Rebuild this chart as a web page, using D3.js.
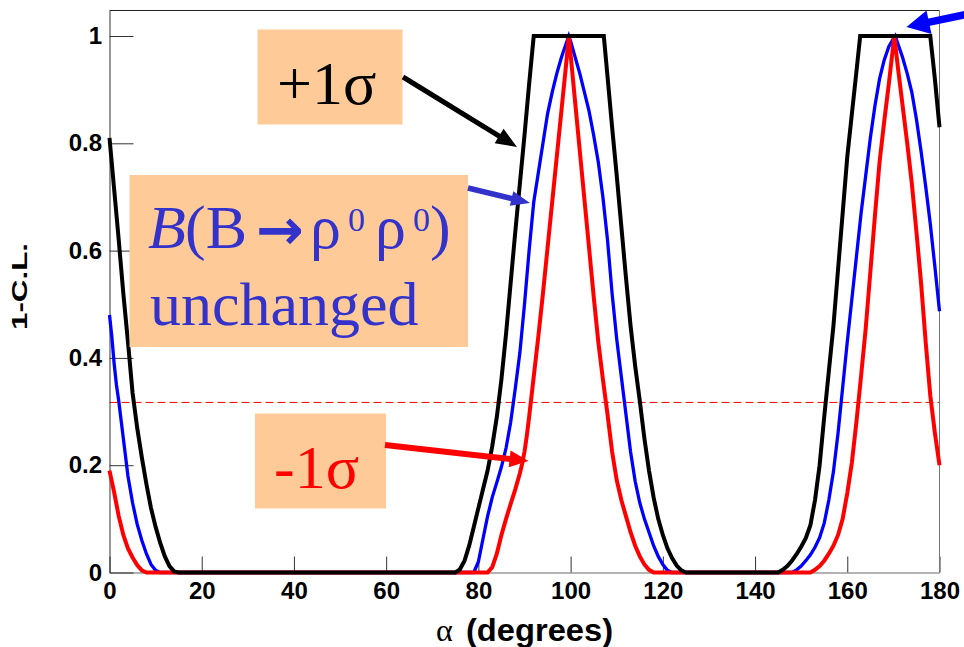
<!DOCTYPE html>
<html>
<head>
<meta charset="utf-8">
<script src="https://cdn.jsdelivr.net/npm/d3@7"></script>
<style>
  body { margin: 0; background: #fff; }
  svg { display: block; }
</style>
</head>
<body>
<svg id="chart" width="964" height="647"></svg>
<script>
// ---------------- DATA ----------------
const alphaTicks = [0, 20, 40, 60, 80, 100, 120, 140, 160, 180];
const clTicks = [0, 0.2, 0.4, 0.6, 0.8, 1];
const clThreshold = 0.317;

// +1 sigma (black) : [alpha (deg), 1-C.L.]
const plusOneSigma = [
  [0,0.81],[1,0.715],[2,0.62],[3,0.52],[4,0.43],[5,0.335],[6,0.27],[7,0.215],[8,0.165],[9,0.12],
  [10,0.085],[11,0.055],[12,0.03],[13,0.012],[14,0.002],[15,0],
  [75,0],[76,0.006],[77,0.022],[78,0.05],[79,0.085],[80,0.12],[81,0.155],[82,0.19],[83,0.235],
  [84,0.29],[85,0.36],[86,0.445],[87,0.54],[88,0.635],[89,0.725],[90,0.815],[91,0.91],[92,1],
  [107.2,1],[108,0.925],[109,0.83],[110,0.74],[111,0.645],[112,0.55],[113,0.46],[114,0.385],
  [115,0.32],[116,0.25],[117,0.19],[118,0.14],[119,0.1],[120,0.07],[121,0.045],[122,0.027],
  [123,0.013],[124,0.004],[125,0],
  [145,0],[146,0.005],[147,0.012],[148,0.022],[149,0.034],[150,0.048],[151,0.064],[152,0.088],
  [153,0.135],[154,0.2],[155,0.29],[156,0.375],[157,0.46],[158,0.565],[159,0.67],[160,0.775],
  [161,0.855],[162,0.935],[162.8,1],[178,1],[179,0.92],[180,0.83]
];

// B(B->rho0 rho0) unchanged (blue)
const unchanged = [
  [0,0.48],[0.5,0.44],[1,0.39],[1.5,0.35],[2,0.32],[3,0.25],[4,0.18],[5,0.13],[6,0.09],[7,0.06],
  [8,0.035],[9,0.015],[10,0.004],[11,0],
  [79,0],[80,0.02],[81,0.063],[82,0.105],[83,0.14],[84,0.168],[85,0.197],[86,0.232],[87,0.28],
  [88,0.343],[89,0.41],[90,0.5],[91,0.6],[92,0.69],[93,0.745],[94,0.8],[95,0.855],[96,0.895],
  [97,0.93],[98,0.96],[99,0.985],[99.6,1],
  [100,0.99],[101,0.96],[102,0.93],[103,0.895],[104,0.86],[105,0.815],[106,0.765],[107,0.7],
  [108,0.62],[109,0.52],[110,0.435],[111,0.365],[112,0.295],[113,0.225],[114,0.17],[115,0.13],
  [116,0.1],[117,0.075],[118,0.05],[119,0.03],[120,0.015],[121,0.004],[122,0],
  [148,0],[149,0.005],[150,0.012],[151,0.022],[152,0.033],[153,0.047],[154,0.065],[155,0.092],
  [156,0.135],[157,0.188],[158,0.26],[159,0.345],[160,0.43],[161,0.51],[162,0.59],[163,0.67],
  [164,0.74],[165,0.81],[166,0.87],[167,0.92],[168,0.955],[169,0.98],[170,0.995],[170.4,1],
  [171,0.985],[172,0.96],[173,0.93],[174,0.895],[175,0.845],[176,0.785],[177,0.72],[178,0.65],
  [179,0.57],[180,0.487]
];

// -1 sigma (red)
const minusOneSigma = [
  [0,0.19],[1,0.15],[2,0.105],[3,0.07],[4,0.045],[5,0.028],[6,0.014],[7,0.004],[8,0],
  [82,0],[83,0.01],[84,0.035],[85,0.07],[86,0.1],[87,0.128],[88,0.155],[89,0.185],[89.5,0.203],
  [90,0.225],[90.5,0.255],[91,0.29],[92,0.365],[93,0.44],[94,0.52],[95,0.605],[96,0.69],
  [97,0.775],[98,0.86],[99,0.945],[99.6,1],
  [100,0.965],[101,0.875],[102,0.785],[103,0.695],[104,0.605],[105,0.515],[106,0.43],[107,0.36],
  [108,0.295],[109,0.225],[110,0.172],[111,0.135],[112,0.105],[113,0.075],[114,0.05],[115,0.03],
  [116,0.015],[117,0.005],[118,0],
  [152,0],[153,0.005],[154,0.012],[155,0.022],[156,0.035],[157,0.05],[158,0.07],[159,0.1],
  [160,0.148],[161,0.205],[162,0.282],[163,0.367],[164,0.455],[165,0.56],[166,0.665],[167,0.765],
  [168,0.84],[169,0.91],[170,0.985],[170.2,1],
  [171,0.94],[172,0.87],[173,0.8],[174,0.725],[175,0.635],[176,0.54],[177,0.43],[178,0.33],
  [179,0.26],[180,0.2]
];

// ---------------- LAYOUT ----------------
const plot = { left: 109.5, right: 939.5, top: 10.5, bottom: 572.5 };
const svg = d3.select('#chart');

const x = d3.scaleLinear().domain([0, 180]).range([plot.left, plot.right]);
const y = d3.scaleLinear().domain([0, (plot.bottom - plot.top) / 536.5]).range([plot.bottom, plot.top]);

const sansBold = "'Liberation Sans', Arial, Helvetica, sans-serif";
const serif = "'Liberation Serif', 'Times New Roman', Times, serif";

// threshold dashed line
svg.append('line')
  .attr('x1', x(0)).attr('x2', x(180))
  .attr('y1', y(clThreshold)).attr('y2', y(clThreshold))
  .attr('stroke', '#ff0000').attr('stroke-width', 1)
  .attr('stroke-dasharray', '8,4');

// axes
const gx = svg.append('g')
  .attr('transform', `translate(0,${plot.bottom})`)
  .call(d3.axisBottom(x).tickValues(alphaTicks).tickSizeInner(-16).tickSizeOuter(0)
        .tickPadding(9).tickFormat(d3.format('d')));
gx.attr('font-size', 24).attr('font-family', sansBold).attr('font-weight', 'bold');
gx.select('.domain').attr('stroke', '#666');
gx.selectAll('.tick line').attr('stroke', '#333');
gx.selectAll('.tick text').attr('fill', '#000');

const gy = svg.append('g')
  .attr('transform', `translate(${plot.left},0)`)
  .call(d3.axisLeft(y).tickValues(clTicks).tickSizeInner(-24).tickSizeOuter(0)
        .tickPadding(7.5).tickFormat(d3.format('~g')));
gy.attr('font-size', 24).attr('font-family', sansBold).attr('font-weight', 'bold');
gy.select('.domain').attr('stroke', '#333');
gy.selectAll('.tick line').attr('stroke', '#333');
gy.selectAll('.tick text').attr('fill', '#000');

// frame top/right
svg.append('line').attr('x1', plot.left).attr('x2', plot.right)
  .attr('y1', plot.top).attr('y2', plot.top).attr('stroke', '#222').attr('stroke-width', 1);
svg.append('line').attr('x1', plot.right).attr('x2', plot.right)
  .attr('y1', plot.top).attr('y2', plot.bottom).attr('stroke', '#777').attr('stroke-width', 1);

// curves
const line = d3.line().x(d => x(d[0])).y(d => y(d[1]));
const series = [
  { data: unchanged, color: '#0000ff', width: 3.3 },
  { data: minusOneSigma, color: '#ff0000', width: 4 },
  { data: plusOneSigma, color: '#000000', width: 4 }
];
svg.append('g').selectAll('path').data(series).join('path')
  .attr('d', d => line(d.data))
  .attr('fill', 'none')
  .attr('stroke', d => d.color)
  .attr('stroke-width', d => d.width);

// axis titles
const xt = svg.append('text').attr('y', 641).attr('fill', '#000');
xt.append('tspan').attr('x', 436).attr('font-family', serif).attr('font-size', 32).text('α');
xt.append('tspan').attr('x', 466).attr('font-family', sansBold).attr('font-weight', 'bold')
  .attr('font-size', 32).attr('textLength', 147).attr('lengthAdjust', 'spacingAndGlyphs').text('(degrees)');

svg.append('text')
  .attr('transform', 'translate(27,286.5) rotate(-90)')
  .attr('text-anchor', 'middle')
  .attr('font-family', sansBold).attr('font-weight', 'bold').attr('font-size', 22)
  .attr('textLength', 87).attr('lengthAdjust', 'spacingAndGlyphs')
  .attr('fill', '#000')
  .text('1-C.L.');

// ---------------- ANNOTATIONS ----------------
const peach = '#FECB98';
const ann = svg.append('g');

function arrow(p1, p2, w, hl, hw, color) {
  const dx = p2[0] - p1[0], dy = p2[1] - p1[1];
  const L = Math.hypot(dx, dy), ux = dx / L, uy = dy / L;
  const bx = p2[0] - ux * hl, by = p2[1] - uy * hl;
  ann.append('line').attr('x1', p1[0]).attr('y1', p1[1])
    .attr('x2', bx + ux * 2).attr('y2', by + uy * 2)
    .attr('stroke', color).attr('stroke-width', w);
  ann.append('polygon')
    .attr('points', [[p2[0], p2[1]], [bx - uy * hw / 2, by + ux * hw / 2], [bx + uy * hw / 2, by - ux * hw / 2]]
      .map(p => p.join(',')).join(' '))
    .attr('fill', color);
}

// +1 sigma box
ann.append('rect').attr('x', 257.5).attr('y', 29.5).attr('width', 145).attr('height', 95).attr('fill', peach);
ann.append('text').attr('x', 277).attr('y', 104).attr('font-family', serif).attr('font-size', 62)
  .attr('fill', '#000').text('+1σ');
arrow([403, 77], [517, 147], 5, 21, 17, '#000');

// unchanged box
ann.append('rect').attr('x', 129.5).attr('y', 175).attr('width', 338.5).attr('height', 172).attr('fill', peach);
const t1 = ann.append('text').attr('y', 248).attr('font-family', serif).attr('font-size', 62).attr('fill', '#3333cc');
t1.append('tspan').attr('x', 148).attr('font-style', 'italic').text('B');
t1.append('tspan').attr('x', 185).text('(B');
t1.append('tspan').attr('x', 256).attr('font-family', "'DejaVu Sans', sans-serif").attr('font-weight', 'bold')
  .attr('font-size', 57).attr('dy', 1).text('→');
t1.append('tspan').attr('x', 310).attr('dy', -1).text('ρ');
t1.append('tspan').attr('x', 348).attr('font-size', 34).attr('dy', -17).text('0');
t1.append('tspan').attr('x', 375).attr('dy', 17).text('ρ');
t1.append('tspan').attr('x', 413).attr('font-size', 34).attr('dy', -17).text('0');
t1.append('tspan').attr('x', 430).attr('dy', 17).text(')');
ann.append('text').attr('x', 150).attr('y', 325).attr('font-family', serif).attr('font-size', 62)
  .attr('fill', '#3333cc').text('unchanged');
arrow([468, 188], [530, 203], 5.5, 19, 15, '#3333cc');

// -1 sigma box
ann.append('rect').attr('x', 255).attr('y', 413.5).attr('width', 131).attr('height', 95).attr('fill', peach);
ann.append('text').attr('x', 274).attr('y', 488).attr('font-family', serif).attr('font-size', 62)
  .attr('fill', '#ff0000').text('-1σ');
arrow([385, 445], [528.5, 461], 6, 19, 17, '#ff0000');

// top-right blue arrow
arrow([975, 12.5], [906.5, 27], 7.5, 23, 24, '#0000ff');
</script>
</body>
</html>
